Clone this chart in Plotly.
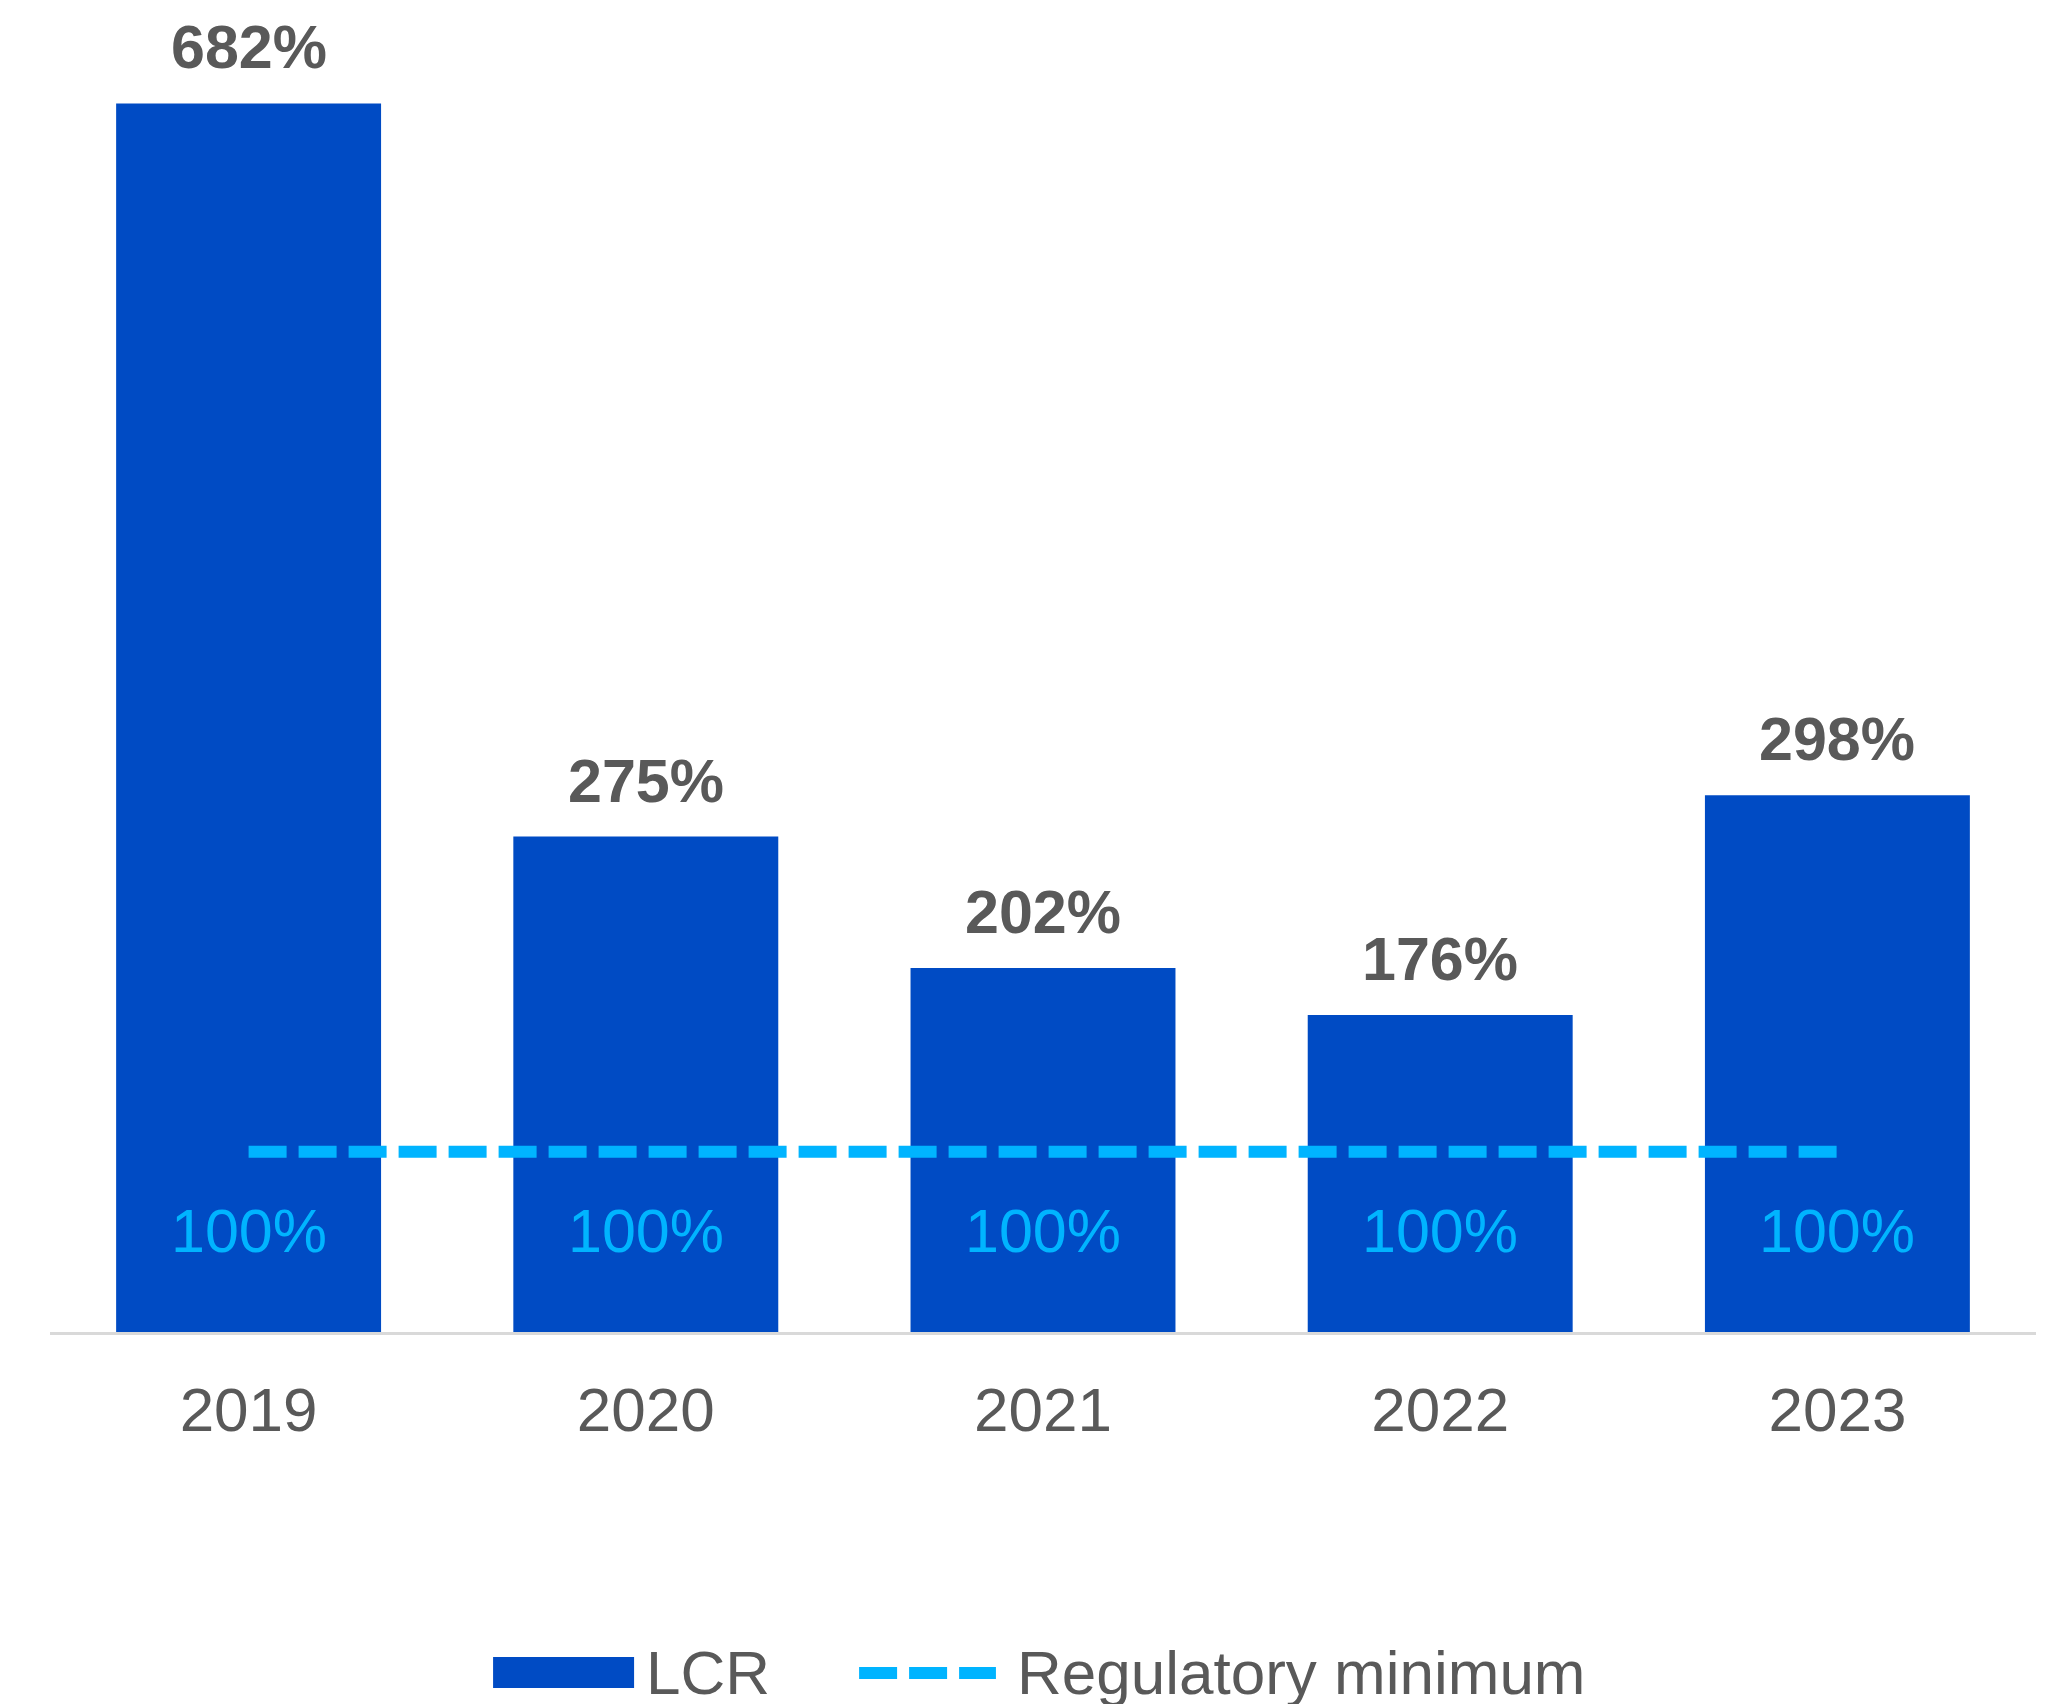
import plotly.graph_objects as go

years = ["2019", "2020", "2021", "2022", "2023"]
lcr = [682, 275, 202, 176, 298]
reg_min = [100, 100, 100, 100, 100]
series_names = ["LCR", "Regulatory minimum"]

BAR = "#004BC4"
LIGHT = "#00B4FF"
GRAY = "#595959"
FONT = "Liberation Sans, Arial, sans-serif"
DASH = "38px,12px"

fig = go.Figure()
fig.add_trace(go.Bar(x=years, y=lcr, name=series_names[0], marker=dict(color=BAR, line=dict(width=0)),
                     showlegend=False))
fig.add_trace(go.Scatter(x=years, y=reg_min, name=series_names[1], mode="lines",
                         line=dict(color=LIGHT, width=12, dash=DASH), showlegend=False))

annotations = []
for i, v in enumerate(lcr):
    annotations.append(dict(x=i, y=v, text=f"<b>{v}%</b>", showarrow=False, yanchor="bottom",
                            yshift=20, font=dict(family=FONT, size=61, color=GRAY)))
for i, v in enumerate(reg_min):
    annotations.append(dict(x=i, y=v, text=f"{v}%", showarrow=False, yanchor="middle",
                            yshift=-79, font=dict(family=FONT, size=61, color=LIGHT)))

# custom legend (paper coordinates)
leg_y = -0.2704
shapes = [
    dict(type="rect", xref="paper", yref="paper", x0=0.2231, x1=0.2941, y0=-0.2823, y1=-0.2577,
         fillcolor=BAR, line=dict(width=0)),
    dict(type="line", xref="paper", yref="paper", x0=0.4074, x1=0.4763, y0=leg_y, y1=leg_y,
         line=dict(color=LIGHT, width=12, dash=DASH)),
]
annotations.append(dict(xref="paper", yref="paper", x=0.2990, y=leg_y, xanchor="left", yanchor="middle",
                        text=series_names[0], showarrow=False, font=dict(family=FONT, size=62, color=GRAY)))
annotations.append(dict(xref="paper", yref="paper", x=0.4860, y=leg_y, xanchor="left", yanchor="middle",
                        text=series_names[1], showarrow=False, font=dict(family=FONT, size=62, color=GRAY)))

fig.update_layout(
    width=2049, height=1704,
    margin=dict(l=42, r=21, t=63, b=380, autoexpand=False),
    paper_bgcolor="white", plot_bgcolor="white",
    bargap=0.333,
    font=dict(family=FONT, size=60, color=GRAY),
    xaxis=dict(type="category", range=[-0.5, len(years) - 0.5], autorange=False,
               showline=True, linecolor="#D9D9D9", linewidth=3, ticks="", showgrid=False,
               tickfont=dict(family=FONT, size=62, color=GRAY), ticklabelstandoff=22),
    yaxis=dict(range=[0, 700], autorange=False, visible=False, showgrid=False, zeroline=False),
    showlegend=False,
    annotations=annotations,
    shapes=shapes,
)

fig.write_html("out.html")
